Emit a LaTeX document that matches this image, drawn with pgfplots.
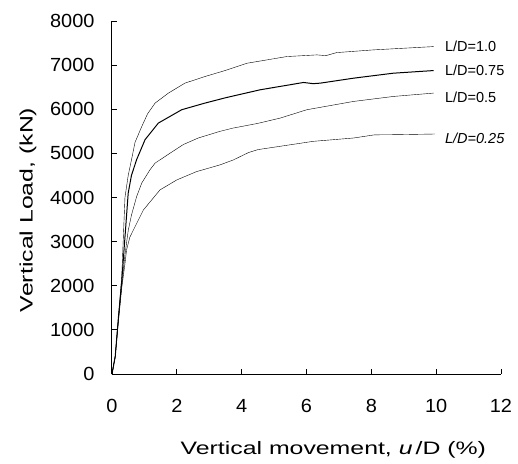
\documentclass[border=0pt]{standalone}
\usepackage{fontspec}
\setmainfont{Liberation Sans}
\newfontfamily\tickfont[FakeStretch=1.05]{Liberation Sans}
\newfontfamily\labfont[FakeStretch=1.38]{Liberation Sans}
\usepackage{pgfplots}
\pgfplotsset{compat=1.18}
\begin{document}
\begin{tikzpicture}
\useasboundingbox (-112bp,-90bp) rectangle (406bp,374bp);
\begin{axis}[
  at={(0,0)}, anchor=south west,
  scale only axis, width=389bp, height=353bp,
  xmin=0, xmax=12, ymin=0, ymax=8000,
  axis x line*=bottom, axis y line*=left,
  axis line style={line width=1pt},
  xtick={0,2,...,12}, ytick={0,1000,...,8000},
  tick align=inside, major tick length=5bp,
  tick style={line width=0.8pt, black},
  /pgf/number format/assume math mode=true,
  /pgf/number format/1000 sep={},
  tick label style={font=\tickfont\fontsize{19bp}{20bp}\selectfont},
  yticklabel style={xshift=-14bp},
  xticklabel style={yshift=-22bp},
  xlabel={Vertical movement, \textit{u}\,/D (\%)},
  ylabel={Vertical Load, (kN)},
  label style={font=\labfont\fontsize{18bp}{20bp}\selectfont},
  xlabel style={at={(rel axis cs:0.569,0)}, anchor=center, yshift=-76bp},
  ylabel style={at={(rel axis cs:0,0.465)}, anchor=center, yshift=84bp},
  clip=false,
  cycle list={{black, line width=1pt, mark=none}},
]
% L/D = 1.0
\addplot coordinates {(0,0)(0.1,400)(0.2,1300)(0.3,2200)(0.35,3100)(0.4,4000)(0.5,4500)(0.6,4850)(0.71,5250)(0.92,5612)(1.1,5900)(1.33,6140)(1.74,6366)(2.25,6592)(2.87,6742)(3.5,6880)(4.16,7042)(5.39,7194)(6.32,7232)(6.6,7215)(6.93,7284)(8.06,7345)(9.92,7420)};
% L/D = 0.75
\addplot coordinates {(0,0)(0.1,400)(0.2,1300)(0.3,2100)(0.4,3100)(0.5,4100)(0.6,4500)(0.76,4859)(1.02,5311)(1.43,5687)(2.15,5989)(2.87,6140)(3.5,6260)(4.57,6441)(5.91,6607)(6.2,6580)(6.42,6591)(7.45,6704)(8.68,6817)(9.92,6877)};
% L/D = 0.5
\addplot coordinates {(0,0)(0.1,400)(0.2,1250)(0.3,2000)(0.4,2700)(0.5,3250)(0.6,3600)(0.76,4021)(0.92,4331)(1.17,4626)(1.33,4780)(1.79,5004)(2.2,5200)(2.66,5348)(3.33,5499)(3.74,5574)(4.5,5680)(5.19,5800)(6.01,5989)(7.45,6177)(8.68,6290)(9.92,6366)};
% L/D = 0.25
\addplot coordinates {(0,0)(0.1,400)(0.2,1200)(0.3,1950)(0.4,2500)(0.45,2812)(0.55,3100)(0.66,3265)(0.97,3719)(1.48,4172)(2.0,4399)(2.61,4587)(3.33,4739)(3.74,4850)(4.21,5018)(4.5,5085)(6.21,5273)(7.45,5348)(8.1,5420)(8.78,5424)(9.97,5439)};
\node[anchor=west, font=\fontsize{14.5bp}{16bp}\selectfont, inner sep=0pt] at (axis cs:10.27,7415) {L/D=1.0};
\node[anchor=west, font=\fontsize{14.5bp}{16bp}\selectfont, inner sep=0pt] at (axis cs:10.27,6871) {L/D=0.75};
\node[anchor=west, font=\fontsize{14.5bp}{16bp}\selectfont, inner sep=0pt] at (axis cs:10.27,6281) {L/D=0.5};
\node[anchor=west, font=\itshape\fontsize{14.5bp}{16bp}\selectfont, inner sep=0pt] at (axis cs:10.27,5351) {L/D=0.25};
\end{axis}
\end{tikzpicture}
\end{document}
